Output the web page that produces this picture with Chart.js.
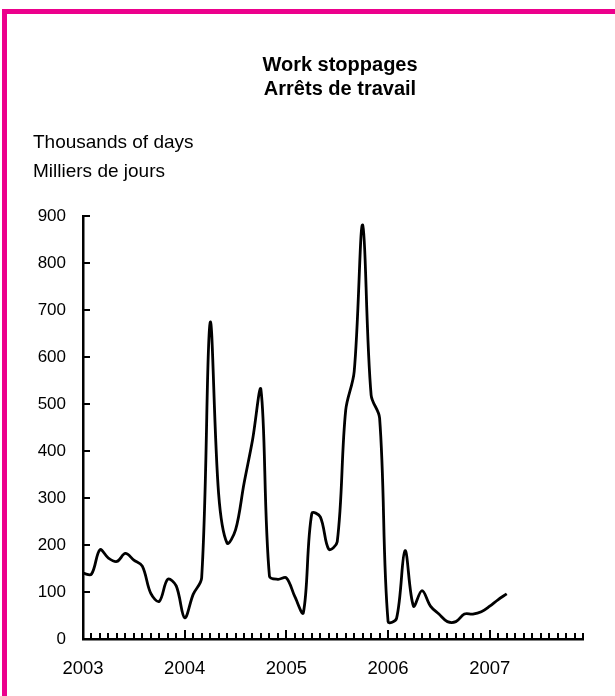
<!DOCTYPE html>
<html>
<head>
<meta charset="utf-8">
<script src="https://cdn.jsdelivr.net/npm/chart.js@4.4.0/dist/chart.umd.min.js"></script>
<style>
  html, body { margin: 0; padding: 0; background: #fff; overflow: hidden; }
  #frame { position: absolute; left: 2px; top: 9px; width: 700px; height: 800px; border: 5px solid #ec008c; }
  #wrap { position: absolute; left: 0; top: 0; width: 615px; height: 696px; }
</style>
</head>
<body>
<div id="frame"></div>
<div id="wrap"><canvas id="chart"></canvas></div>
<script>
const titleLines = ['Work stoppages', 'Arrêts de travail'];
const unitLines = ['Thousands of days', 'Milliers de jours'];

const years = ['2003', '2004', '2005', '2006', '2007'];
const monthNames = ['Jan', 'Feb', 'Mar', 'Apr', 'May', 'Jun', 'Jul', 'Aug', 'Sep', 'Oct', 'Nov', 'Dec'];
const categories = years.flatMap((yr) => monthNames.map((m) => m + ' ' + yr));

// thousands of person-days, monthly, Jan 2003 - Mar 2007
const daysLost = [
  140, 138, 190, 172, 165, 182, 168, 155, 97, 80, 127, 113,
  45, 95, 130, 673, 310, 204, 232, 331, 423, 530, 134, 127,
  130, 90, 56, 267, 260, 191, 207, 487, 569, 881, 519, 470,
  37, 44, 188, 70, 103, 70, 53, 37, 37, 53, 53, 58,
  70, 84, 96
];

const yTicks = [0, 100, 200, 300, 400, 500, 600, 700, 800, 900];

const font = '"Liberation Sans", Arial, Helvetica, sans-serif';

// ticks drawn inside the plot, like the original
const innerTicks = {
  id: 'innerTicks',
  afterDatasetsDraw(chart) {
    const { ctx, chartArea, scales: { x, y } } = chart;
    ctx.save();
    ctx.strokeStyle = '#000';
    ctx.lineWidth = 2;
    ctx.beginPath();
    x.ticks.forEach((t, i) => {
      const px = Math.round(x.getPixelForTick(i));
      const len = i % 12 === 0 ? 9 : 6;
      ctx.moveTo(px, chartArea.bottom);
      ctx.lineTo(px, chartArea.bottom - len);
    });
    y.ticks.forEach((t, i) => {
      const py = Math.round(y.getPixelForTick(i));
      ctx.moveTo(chartArea.left, py);
      ctx.lineTo(chartArea.left + 7, py);
    });
    ctx.stroke();
    ctx.restore();
  }
};

const headerText = {
  id: 'headerText',
  afterDraw(chart) {
    const { ctx } = chart;
    ctx.save();
    ctx.fillStyle = '#000';
    ctx.textBaseline = 'middle';
    ctx.textAlign = 'center';
    ctx.font = 'bold 20px ' + font;
    ctx.fillText(titleLines[0], 340, 65);
    ctx.fillText(titleLines[1], 340, 89);
    ctx.textAlign = 'left';
    ctx.font = '19px ' + font;
    ctx.fillText(unitLines[0], 33, 143);
    ctx.fillText(unitLines[1], 33, 172);
    ctx.restore();
  }
};

new Chart(document.getElementById('chart'), {
  type: 'line',
  data: {
    labels: categories,
    datasets: [{
      data: daysLost,
      borderColor: '#000',
      borderWidth: 2.8,
      pointRadius: 0,
      tension: 0.35,
      fill: false
    }]
  },
  options: {
    responsive: true,
    maintainAspectRatio: false,
    animation: false,
    layout: { padding: { top: 216, right: 32, bottom: 0, left: 0 } },
    plugins: {
      legend: { display: false },
      tooltip: { enabled: false }
    },
    scales: {
      x: {
        offset: false,
        grid: { display: true, drawOnChartArea: false, drawTicks: false },
        border: { display: true, color: '#000', width: 2.5 },
        ticks: {
          autoSkip: false,
          maxRotation: 0,
          minRotation: 0,
          padding: 19,
          color: '#000',
          font: { family: font, size: 18.5 },
          callback: (val, i) => (i % 12 === 0 ? years[i / 12] : '')
        },
        afterFit: (scale) => { scale.height = 57; }
      },
      y: {
        min: 0,
        max: 900,
        afterBuildTicks: (scale) => { scale.ticks = yTicks.map((v) => ({ value: v })); },
        grid: { display: true, drawOnChartArea: false, drawTicks: false },
        border: { display: true, color: '#000', width: 2.5 },
        ticks: {
          padding: 17,
          color: '#000',
          font: { family: font, size: 17 }
        },
        afterFit: (scale) => { scale.width = 83; }
      }
    }
  },
  plugins: [innerTicks, headerText]
});
</script>
</body>
</html>
